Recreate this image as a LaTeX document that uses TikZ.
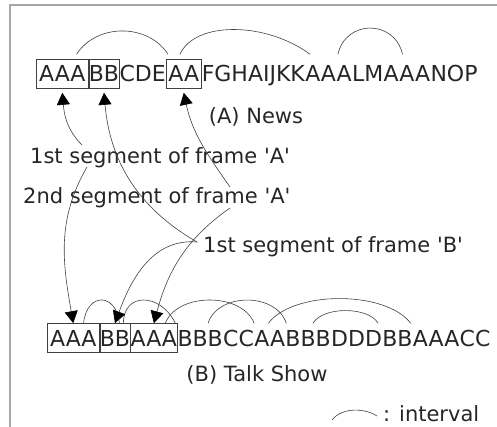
\documentclass[tikz,border=0pt]{standalone}
\usepackage{fontspec}
\setmainfont{DejaVu Sans}
\usetikzlibrary{positioning,arrows.meta}

\begin{document}
\begin{tikzpicture}[x=1pt,y=1pt,
    seg/.style={inner xsep=0pt,inner ysep=6.5pt,text height=16pt,text depth=0pt,
        font=\fontsize{22}{26}\selectfont,text=black!85},
    boxed/.style={seg,draw=black!75,line width=0.6pt,minimum width=#1},
    lbl/.style={inner sep=0pt,font=\fontsize{21}{25}\selectfont,text=black!85},
    interval/.style={black!75,line width=0.6pt},
    pointer/.style={black!75,line width=0.6pt,-{Triangle[length=12pt,width=13pt,color=black]}}
]
    \useasboundingbox (0,0) rectangle (497,-427);
    \draw[black!35,line width=1.5pt] (10,-427) -- (10,-5) -- (497,-5);

    % (A) news
    \node[boxed=52pt,anchor=west] (a1) at (36,-74) {AAA};
    \node[boxed=29pt,right=0pt of a1] (a2) {BB};
    \node[seg,right=0pt of a2] (a3) {CDE};
    \node[boxed=35pt,right=0pt of a3] (a4) {AA};
    \node[seg,right=0pt of a4] (a5) {FGHAIJKK};
    \node[seg,right=0pt of a5] (a6) {AAA};
    \node[seg,right=0pt of a6] (a7) {LM};
    \node[seg,right=0pt of a7] (a8) {AAA};
    \node[seg,right=0pt of a8] (a9) {NOP};
    \node[lbl,anchor=base] (newsA) at (256,-124) {(A) News};

    \draw[interval] ([shift={(-12,5)}]a1.north east)
        .. controls +(20,31) and +(-20,31) .. ([shift={(2,5)}]a4.north west);
    \draw[interval] ([shift={(14,5)}]a4.north west)
        .. controls +(15,33) and +(-45,33) .. ([shift={(5,5)}]a6.north west);
    \draw[interval] ([shift={(-14,5)}]a6.north east)
        .. controls +(8,35) and +(-8,35) .. ([shift={(19,5)}]a8.north west);

    % segment labels
    \node[lbl,anchor=base west] (segA1) at (30,-164) {1st segment of frame \textquotesingle A\textquotesingle};
    \node[lbl,anchor=base west] (segA2) at (23,-204) {2nd segment of frame \textquotesingle A\textquotesingle};
    \node[lbl,anchor=base west] (segB1) at (203,-252) {1st segment of frame \textquotesingle B\textquotesingle};

    % (B) talk show
    \node[boxed=52pt,anchor=west] (b1) at (47,-338) {AAA};
    \node[boxed=28pt,right=0pt of b1] (b2) {BB};
    \node[boxed=45pt,right=0pt of b2] (b3) {AAA};
    \node[seg,right=0pt of b3] (b4) {BBB};
    \node[seg,right=0pt of b4] (b5) {CC};
    \node[seg,right=0pt of b5] (b6) {AA};
    \node[seg,right=0pt of b6] (b7) {BBB};
    \node[seg,right=0pt of b7] (b8) {DDD};
    \node[seg,right=0pt of b8] (b9) {BB};
    \node[seg,right=0pt of b9] (b10) {AAA};
    \node[seg,right=0pt of b10] (b11) {CC};
    \node[lbl,anchor=base] (talkB) at (257,-381) {(B) Talk Show};

    \draw[interval] ([xshift=-16pt]b1.north east)
        .. controls +(3,31) and +(-3,31) .. ([xshift=-11pt]b2.north east);
    \draw[interval] ([xshift=-7pt]b2.north east)
        .. controls +(0,31) and +(-15,31) .. ([xshift=-2pt]b4.north west);
    \draw[interval] ([xshift=-12pt]b3.north east)
        .. controls +(12,31) and +(-12,31) .. (b6.north west);
    \draw[interval] ([xshift=-15pt]b4.north east)
        .. controls +(10,31) and +(-10,31) .. ([xshift=1pt]b7.north west);
    \draw[interval] ([xshift=-17pt]b6.north east)
        .. controls +(25,33) and +(-25,33) .. ([xshift=-2pt]b10.north west);
    \draw[interval] ([xshift=-18pt]b7.north east)
        .. controls +(10,17) and +(-10,17) .. ([xshift=-4pt]b8.north east);

    % pointers up to (A)
    \draw[pointer] ([shift={(52,19)}]segA1.base west) to[out=135,in=-85] ([yshift=-4pt]a1.south);
    \draw[pointer] ([shift={(-6,10)}]segB1.base west) to[out=150,in=-85] ([yshift=-4pt]a2.south);
    \draw[pointer] ([shift={(207,17)}]segA2.base west) to[out=125,in=-78] ([yshift=-4pt]a4.south);
    % pointers down to (B)
    \draw[pointer] ([shift={(57,-3)}]segA1.base west) to[out=-120,in=100] (b1.north);
    \draw[pointer] ([shift={(207,-4)}]segA2.base west) to[out=-145,in=75] (b3.north);
    \draw[pointer] ([shift={(-6,10)}]segB1.base west) to[out=175,in=70] (b2.north);

    % legend
    \node[lbl,anchor=base west] (legend) at (383,-421) {: interval};
    \draw[interval] ([shift={(-51,1)}]legend.base west)
        .. controls +(10,13) and +(-12,8) .. ([shift={(-6,5)}]legend.base west);
\end{tikzpicture}
\end{document}
